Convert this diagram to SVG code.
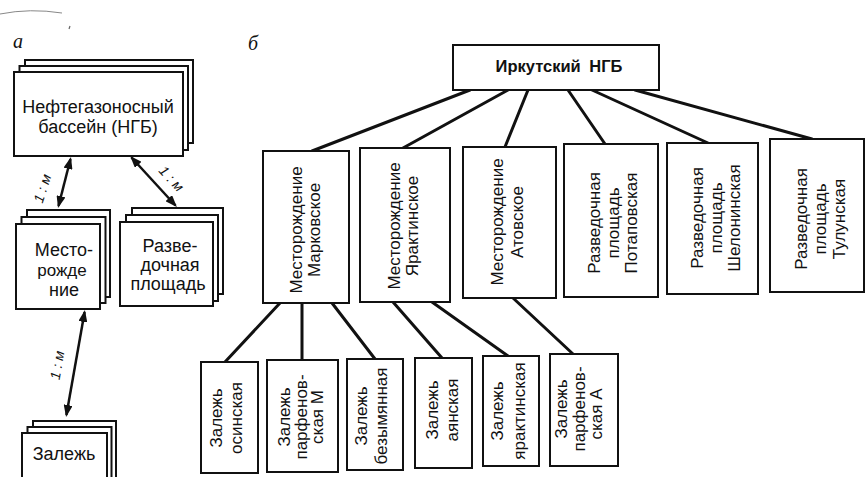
<svg xmlns="http://www.w3.org/2000/svg" width="866" height="477" viewBox="0 0 866 477">
<style>
  .box { fill: #ffffff; stroke: #111111; stroke-width: 2; }
  .con { stroke: #111111; stroke-width: 3; fill: none; stroke-linecap: round; }
  .arr { stroke: #111111; stroke-width: 2.5; fill: none; }
  .t { font-family: "Liberation Sans", Arial, sans-serif; font-size: 17px; fill: #111111; text-anchor: middle; }
  .ta { font-family: "Liberation Sans", Arial, sans-serif; font-size: 18px; fill: #111111; text-anchor: middle; }
  .tm { font-family: "Liberation Sans", Arial, sans-serif; font-size: 17px; fill: #111111; text-anchor: middle; }
  .rel { font-family: "Liberation Sans", Arial, sans-serif; font-size: 14px; font-style: italic; fill: #111111; text-anchor: middle; }
  .lab { font-family: "Liberation Serif", "Times New Roman", serif; font-size: 20px; font-style: italic; fill: #111111; }
  .head { font-family: "Liberation Sans", Arial, sans-serif; font-size: 16.5px; font-weight: bold; fill: #111111; text-anchor: middle; word-spacing: 4px; }
</style>
<defs>
  <marker id="ah" viewBox="0 0 12 9" refX="10" refY="4.5" markerWidth="12" markerHeight="9" markerUnits="userSpaceOnUse" orient="auto-start-reverse">
    <path d="M0,0 L12,4.5 L0,9 z" fill="#111111"/>
  </marker>
</defs>

<!-- scan marks -->
<path d="M0,14 Q30,8 62,13" stroke="#888" stroke-width="1" fill="none"/>
<path d="M70,26 L69,29" stroke="#666" stroke-width="1.2" fill="none"/>

<text class="lab" x="13" y="48">а</text>
<text class="lab" x="248" y="50">б</text>

<g id="connectors">
  <line class="arr" x1="70.5" y1="159" x2="58.5" y2="206" marker-start="url(#ah)" marker-end="url(#ah)"/>
  <line class="arr" x1="131.5" y1="157.5" x2="175.5" y2="205.5" marker-start="url(#ah)" marker-end="url(#ah)"/>
  <line class="arr" x1="84.6" y1="312" x2="66.4" y2="415" marker-start="url(#ah)" marker-end="url(#ah)"/>
  <text class="rel" transform="translate(47,190) rotate(-72)">1 : м</text>
  <text class="rel" transform="translate(168,182) rotate(47)">1 : м</text>
  <text class="rel" transform="translate(62,366) rotate(-80)">1 : м</text>

  <line class="con" x1="470" y1="90" x2="312" y2="151"/>
  <line class="con" x1="508" y1="90" x2="403" y2="148"/>
  <line class="con" x1="528" y1="90" x2="505" y2="147"/>
  <line class="con" x1="568" y1="90" x2="605" y2="144"/>
  <line class="con" x1="592" y1="90" x2="708" y2="143"/>
  <line class="con" x1="635" y1="90" x2="812" y2="139"/>

  <line class="con" x1="280" y1="303" x2="225" y2="362"/>
  <line class="con" x1="302" y1="303" x2="302" y2="360"/>
  <line class="con" x1="332" y1="303" x2="375" y2="359"/>
  <line class="con" x1="393" y1="302" x2="442" y2="358"/>
  <line class="con" x1="432" y1="302" x2="508" y2="356"/>
  <line class="con" x1="513" y1="298" x2="573" y2="354"/>
</g>

<!-- Panel a -->
<g id="ngb">
  <rect class="box" x="25" y="60" width="168" height="83"/>
  <rect class="box" x="19.5" y="66" width="168.5" height="84"/>
  <rect class="box" x="14" y="72" width="169" height="84"/>
  <text class="ta" x="98" y="113">Нефтегазоносный</text>
  <text class="ta" x="98" y="133">бассейн (НГБ)</text>
</g>

<g id="mestorozhdenie">
  <rect class="box" x="27" y="210" width="83" height="87"/>
  <rect class="box" x="21.5" y="217" width="84" height="86"/>
  <rect class="box" x="16" y="224" width="84" height="85"/>
  <text class="ta" x="64" y="256">Место-</text>
  <text class="tm" x="62" y="276">рожде</text>
  <text class="ta" x="64" y="296">ние</text>
</g>

<g id="razvedochnaya">
  <rect class="box" x="132" y="208" width="91" height="86"/>
  <rect class="box" x="126" y="215" width="92" height="86"/>
  <rect class="box" x="120" y="222" width="93" height="84"/>
  <text class="ta" x="170" y="252">Разве-</text>
  <text class="ta" x="170" y="271">дочная</text>
  <text class="ta" x="168" y="290">площадь</text>
</g>

<g id="zalezh">
  <rect class="box" x="33" y="421" width="83" height="70"/>
  <rect class="box" x="27.5" y="427" width="84" height="70"/>
  <rect class="box" x="22" y="433" width="85" height="70"/>
  <text class="ta" x="64" y="460">Залежь</text>
</g>

<!-- Panel b -->
<g id="irkutsk">
  <rect class="box" x="453" y="45" width="206" height="45"/>
  <text class="head" x="559" y="72">Иркутский НГБ</text>
</g>

<g id="markovskoe">
  <rect class="box" x="263" y="151" width="86" height="152"/>
  <text class="t" transform="translate(302,230) rotate(-90)">Месторождение</text>
  <text class="t" transform="translate(320,230) rotate(-90)">Марковское</text>
</g>
<g id="yaraktinskoe">
  <rect class="box" x="360" y="148" width="90" height="154"/>
  <text class="t" transform="translate(400,226) rotate(-90)">Месторождение</text>
  <text class="t" transform="translate(418,226) rotate(-90)">Ярактинское</text>
</g>
<g id="atovskoe">
  <rect class="box" x="463" y="147" width="93" height="151"/>
  <text class="t" transform="translate(503,222) rotate(-90)">Месторождение</text>
  <text class="t" transform="translate(523,222) rotate(-90)">Атовское</text>
</g>
<g id="potapovskaya">
  <rect class="box" x="564" y="144" width="94" height="153"/>
  <text class="t" transform="translate(600,223) rotate(-90)">Разведочная</text>
  <text class="t" transform="translate(619,223) rotate(-90)">площадь</text>
  <text class="t" transform="translate(637,223) rotate(-90)">Потаповская</text>
</g>
<g id="shelonin">
  <rect class="box" x="667" y="143" width="91" height="151"/>
  <text class="t" transform="translate(703,218) rotate(-90)">Разведочная</text>
  <text class="t" transform="translate(722,218) rotate(-90)">площадь</text>
  <text class="t" transform="translate(740,218) rotate(-90)">Шелонинская</text>
</g>
<g id="tulunskaya">
  <rect class="box" x="770" y="139" width="94" height="153"/>
  <text class="t" transform="translate(807,219) rotate(-90)">Разведочная</text>
  <text class="t" transform="translate(826,219) rotate(-90)">площадь</text>
  <text class="t" transform="translate(845,219) rotate(-90)">Тулунская</text>
</g>

<g id="osinskaya">
  <rect class="box" x="201" y="362" width="57" height="111"/>
  <text class="t" transform="translate(222,418) rotate(-90)">Залежь</text>
  <text class="t" transform="translate(242,418) rotate(-90)">осинская</text>
</g>
<g id="parfenov-m">
  <rect class="box" x="267" y="360" width="71" height="112"/>
  <text class="t" transform="translate(290,417) rotate(-90)">Залежь</text>
  <text class="t" transform="translate(307,417) rotate(-90)">парфенов-</text>
  <text class="t" transform="translate(323,417) rotate(-90)">ская М</text>
</g>
<g id="bezymyannaya">
  <rect class="box" x="347" y="359" width="56" height="111"/>
  <text class="t" transform="translate(367,416) rotate(-90)">Залежь</text>
  <text class="t" transform="translate(387,416) rotate(-90)">безымянная</text>
</g>
<g id="ayanskaya">
  <rect class="box" x="415" y="358" width="57" height="110"/>
  <text class="t" transform="translate(438,410) rotate(-90)">Залежь</text>
  <text class="t" transform="translate(458,410) rotate(-90)">аянская</text>
</g>
<g id="yaraktinskaya">
  <rect class="box" x="483" y="356" width="56" height="110"/>
  <text class="t" transform="translate(503,411) rotate(-90)">Залежь</text>
  <text class="t" transform="translate(525,411) rotate(-90)">ярактинская</text>
</g>
<g id="parfenov-a">
  <rect class="box" x="550" y="354" width="68" height="112"/>
  <text class="t" transform="translate(567,409) rotate(-90)">Залежь</text>
  <text class="t" transform="translate(585,409) rotate(-90)">парфенов-</text>
  <text class="t" transform="translate(602,414) rotate(-90)">ская А</text>
</g>
</svg>
